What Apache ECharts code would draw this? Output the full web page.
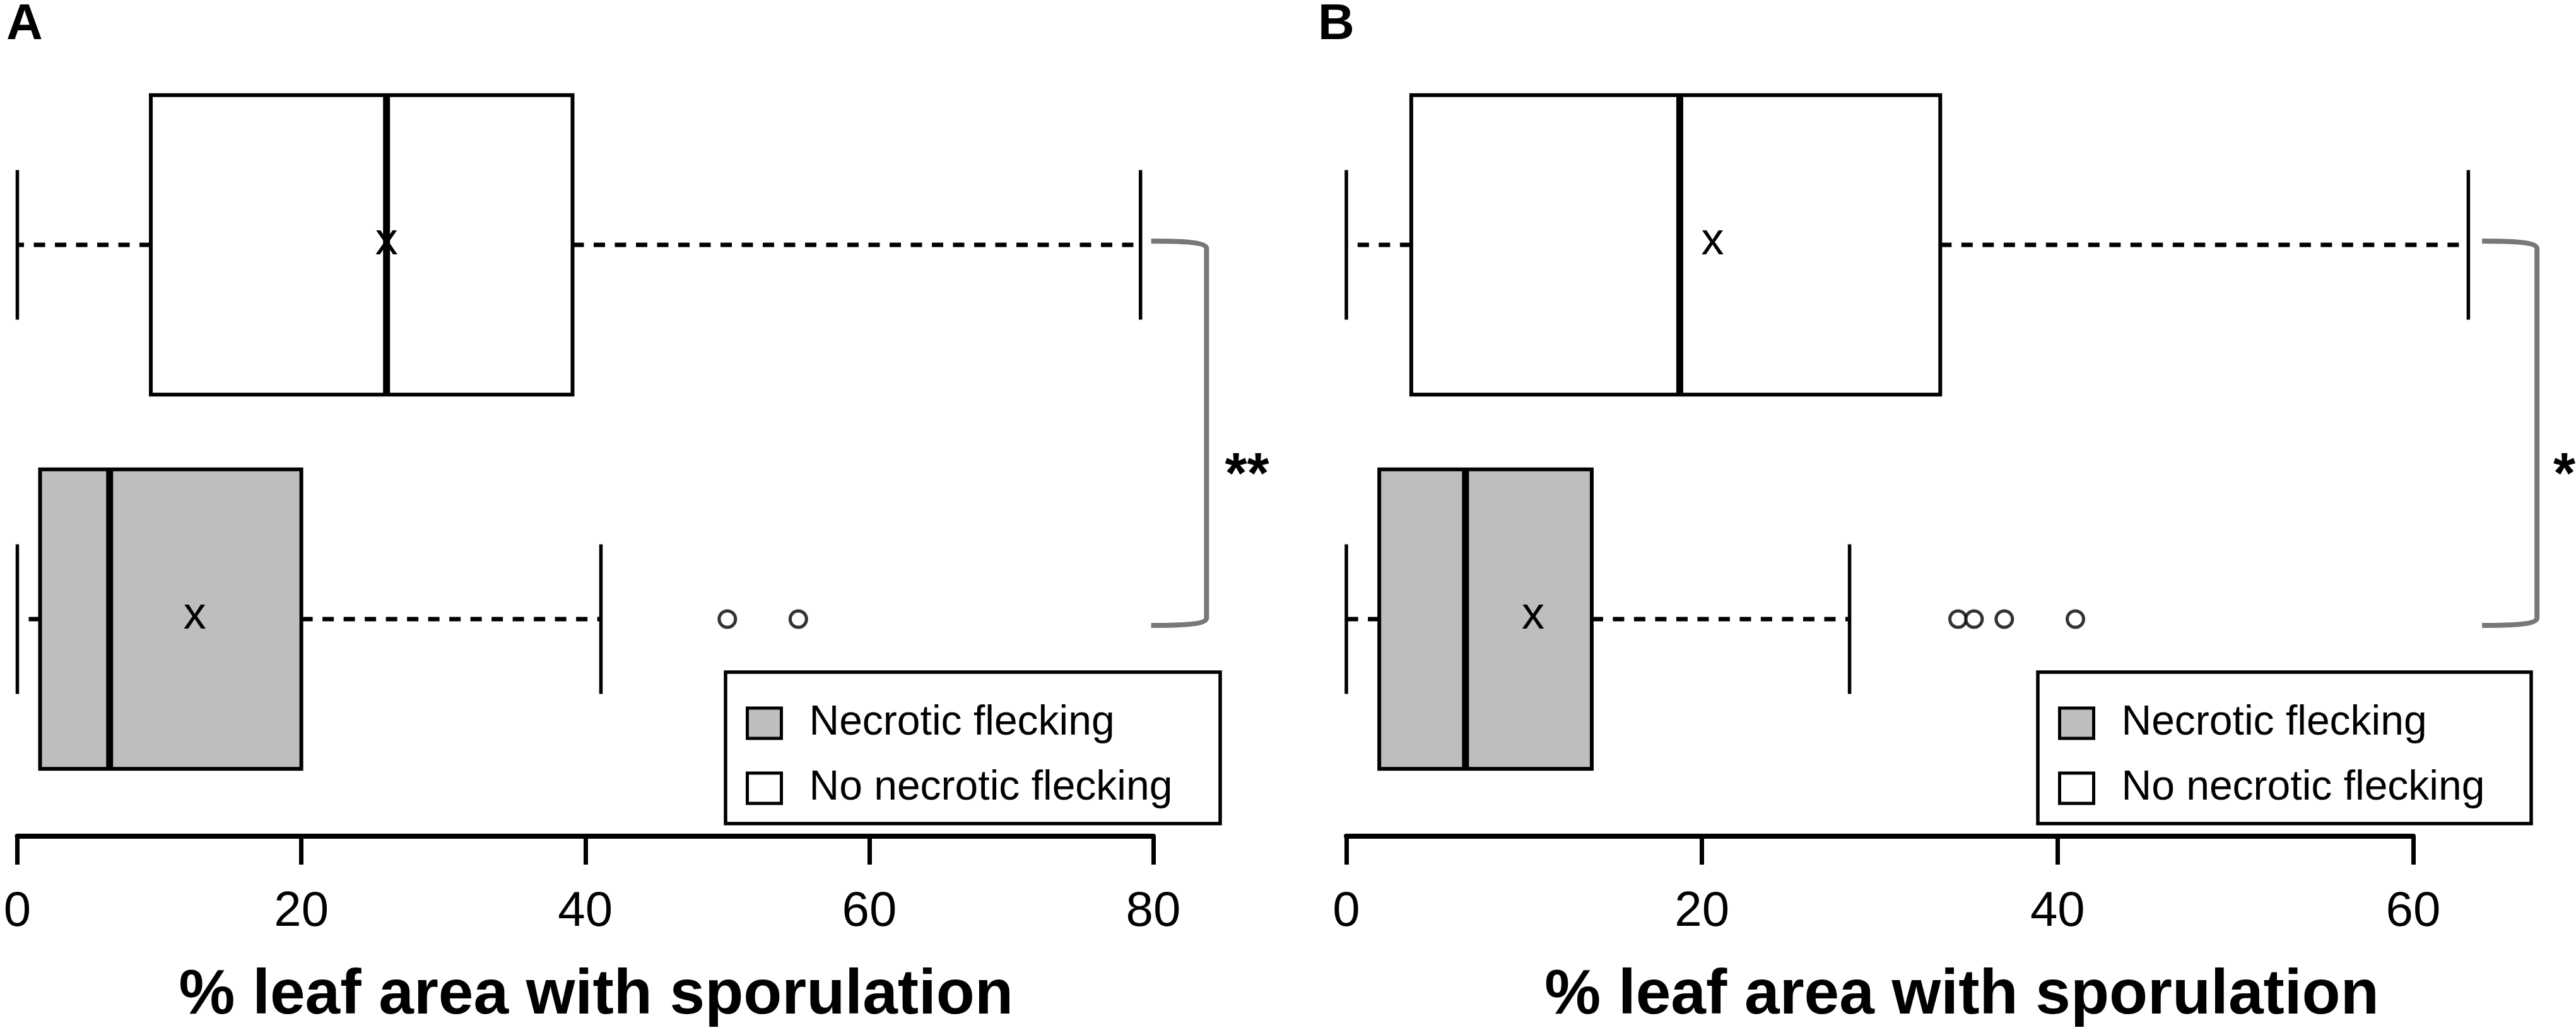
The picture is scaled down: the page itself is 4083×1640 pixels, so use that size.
<!DOCTYPE html>
<html>
<head>
<meta charset="utf-8">
<script src="https://cdn.jsdelivr.net/npm/echarts@6/dist/echarts.min.js"></script>
<style>
html,body{margin:0;padding:0;background:#fff;}
#chart{width:4083px;height:1640px;}
</style>
</head>
<body>
<div id="chart"></div>
<script>
// ---------------- DATA ----------------
const categories = ['Necrotic flecking', 'No necrotic flecking'];
// five-number summaries: [min, Q1, median, Q3, max]
const statsA_necrotic = [0, 1.6, 6.5, 20.0, 41.1];
const statsA_none     = [0, 9.4, 26.0, 39.1, 79.1];
const statsB_necrotic = [0, 1.85, 6.7, 13.8, 28.3];
const statsB_none     = [0, 3.65, 18.75, 33.4, 63.1];
// means (shown as "x")
const meansA = [12.5, 26.0];   // [necrotic, none]
const meansB = [10.5, 20.6];
// outliers
const outliersA_necrotic = [50, 55];
const outliersB_necrotic = [34.4, 35.3, 37.0, 41.0];
// axes
const ticksA = [0, 20, 40, 60, 80];
const ticksB = [0, 20, 40, 60];
const axisTitle = '% leaf area with sporulation';
const panelLabels = ['A', 'B'];
// significance brackets: [armStart, corner, labelX]
const bracketA = [79.85, 83.75, 86.6];
const bracketB = [63.87, 66.96, 68.5];
const sigLabels = ['**', '*'];

// ---------------- STYLE ----------------
const NARROW = "'Liberation Sans Narrow', 'Arial Narrow', 'Liberation Sans', Arial, sans-serif";
const SANS = "'Liberation Sans', Arial, sans-serif";
const GRAY = '#bebebe';
const BOX_FRAC = 0.8, CAP_FRAC = 0.4;

function renderBox(params, api) {
  const cat = api.value(0);
  const v = [api.value(1), api.value(2), api.value(3), api.value(4), api.value(5)];
  const px = v.map(d => api.coord([d, cat])[0]);
  const cy = api.coord([v[1], cat])[1];
  const band = api.size([0, 1])[1];
  const h = band * BOX_FRAC, cap = band * CAP_FRAC;
  const color = api.visual('color');
  const dash = {stroke: '#000', lineWidth: 7, lineDash: [18, 15.5]};
  const solid = {stroke: '#000', lineWidth: 5.5};
  return {type: 'group', children: [
    {type: 'line', shape: {x1: px[1], y1: cy, x2: px[0], y2: cy}, style: dash},
    {type: 'line', shape: {x1: px[3], y1: cy, x2: px[4], y2: cy}, style: dash},
    {type: 'line', shape: {x1: px[0], y1: cy - cap / 2, x2: px[0], y2: cy + cap / 2}, style: solid},
    {type: 'line', shape: {x1: px[4], y1: cy - cap / 2, x2: px[4], y2: cy + cap / 2}, style: solid},
    {type: 'rect', shape: {x: px[1], y: cy - h / 2, width: px[3] - px[1], height: h},
      style: {fill: color, stroke: '#000', lineWidth: 6}},
    {type: 'line', shape: {x1: px[2], y1: cy - h / 2, x2: px[2], y2: cy + h / 2},
      style: {stroke: '#000', lineWidth: 11}}
  ]};
}

function renderMean(params, api) {
  const p = api.coord([api.value(0), api.value(1)]);
  return {type: 'text', x: p[0], y: p[1] - 5, z2: 10,
    style: {text: 'x', fill: '#000', fontSize: 72, fontFamily: NARROW,
      align: 'center', verticalAlign: 'middle', textAlign: 'center', textVerticalAlign: 'middle'}};
}

function makeBracketRenderer(label) {
  return function (params, api) {
    const x0 = api.value(0), x1 = api.value(1), xs = api.value(2);
    const top = api.coord([x0, 1]), bot = api.coord([x0, 0]);
    const xa = top[0], xc = api.coord([x1, 1])[0], xsP = api.coord([xs, 1])[0];
    const yT = top[1] - 6, yB = bot[1] + 10;
    const mid = (xa + xc) / 2;
    const d = `M${xa} ${yT} C${mid} ${yT} ${xc} ${yT + 1} ${xc} ${yT + 12} ` +
              `L${xc} ${yB - 12} C${xc} ${yB - 1} ${mid} ${yB} ${xa} ${yB}`;
    const yMid = (top[1] + bot[1]) / 2;
    return {type: 'group', children: [
      {type: 'path', shape: {pathData: d}, style: {fill: 'none', stroke: '#787878', lineWidth: 8}},
      {type: 'text', x: xsP, y: yMid + 72,
        style: {text: label, fill: '#000', fontSize: 90, fontWeight: 'bold', fontFamily: SANS,
          align: 'center', verticalAlign: 'middle', textAlign: 'center', textVerticalAlign: 'middle'}}
    ]};
  };
}

function xAxisFor(gridIndex, ticks, padLeft) {
  const step = ticks[1] - ticks[0];
  return {
    type: 'value', gridIndex: gridIndex, min: ticks[0], max: ticks[ticks.length - 1], interval: step,
    position: 'bottom', offset: 47.5,
    axisLine: {show: true, lineStyle: {color: '#000', width: 8}},
    axisTick: {show: true, length: 45, lineStyle: {color: '#000', width: 7}},
    splitLine: {show: false},
    axisLabel: {margin: 81, color: '#000', fontSize: 78, fontFamily: NARROW},
    name: axisTitle, nameLocation: 'middle', nameGap: 203,
    nameTextStyle: {color: '#000', fontSize: 100, fontWeight: 'bold', fontFamily: SANS,
      padding: [0, 0, 0, padLeft]}
  };
}

function yAxisFor(gridIndex) {
  return {type: 'category', gridIndex: gridIndex, data: categories, show: false, boundaryGap: true};
}

function panelSeries(p, statsNec, statsNone, means, outliers, bracket) {
  return [
    {type: 'custom', name: categories[0], xAxisIndex: p, yAxisIndex: p, clip: false,
      itemStyle: {color: GRAY}, renderItem: renderBox,
      encode: {x: [1, 2, 3, 4, 5], y: 0}, data: [[0].concat(statsNec)], z: 2},
    {type: 'custom', name: categories[1], xAxisIndex: p, yAxisIndex: p, clip: false,
      itemStyle: {color: '#ffffff'}, renderItem: renderBox,
      encode: {x: [1, 2, 3, 4, 5], y: 0}, data: [[1].concat(statsNone)], z: 2},
    {type: 'scatter', name: 'outliers' + p, xAxisIndex: p, yAxisIndex: p,
      symbol: 'circle', symbolSize: 26, silent: true,
      itemStyle: {color: '#fff', borderColor: '#000', borderWidth: 5},
      data: outliers.map(v => [v, 0]), z: 3},
    {type: 'custom', name: 'means' + p, xAxisIndex: p, yAxisIndex: p, clip: false,
      renderItem: renderMean, data: means.map((m, i) => [m, i]), z: 5},
    {type: 'custom', name: 'bracket' + p, xAxisIndex: p, yAxisIndex: p, clip: false,
      renderItem: makeBracketRenderer(sigLabels[p]),
      encode: {x: [0, 1, 2], y: 3}, data: [bracket.concat([0])], z: 4}
  ];
}

function legendFor(left) {
  return {
    orient: 'vertical', left: left, top: 1101, itemGap: 23,
    icon: 'rect', itemWidth: 54, itemHeight: 48,
    itemStyle: {borderColor: '#000', borderWidth: 5},
    selectedMode: false,
    textStyle: {color: '#000', fontSize: 66, lineHeight: 80, fontFamily: NARROW, padding: [0, 0, 0, 39]},
    data: [
      {name: categories[0], itemStyle: {color: GRAY, borderColor: '#000', borderWidth: 5}},
      {name: categories[1], itemStyle: {color: '#fff', borderColor: '#000', borderWidth: 5}}
    ]
  };
}

const chart = echarts.init(document.getElementById('chart'), null, {renderer: 'canvas'});
chart.setOption({
  animation: false,
  backgroundColor: '#fff',
  title: [
    {text: panelLabels[0], left: 10, top: 0, padding: 0, textStyle: {fontSize: 80, fontWeight: 'bold', fontFamily: SANS, color: '#000'}},
    {text: panelLabels[1], left: 2089, top: 0, padding: 0, textStyle: {fontSize: 80, fontWeight: 'bold', fontFamily: SANS, color: '#000'}}
  ],
  grid: [
    {left: 27.5, width: 1800.5, top: 91.5, height: 1186},
    {left: 2134, width: 1691, top: 91.5, height: 1186}
  ],
  xAxis: [xAxisFor(0, ticksA, 34), xAxisFor(1, ticksB, 260)],
  yAxis: [yAxisFor(0), yAxisFor(1)],
  legend: [legendFor(1177), legendFor(3257)],
  graphic: [
    {type: 'rect', shape: {x: 1150, y: 1065, width: 784, height: 240}, style: {fill: 'none', stroke: '#000', lineWidth: 5.5}, z: -1},
    {type: 'rect', shape: {x: 3230, y: 1065, width: 782, height: 240}, style: {fill: 'none', stroke: '#000', lineWidth: 5.5}, z: -1}
  ],
  series: [].concat(
    panelSeries(0, statsA_necrotic, statsA_none, meansA, outliersA_necrotic, bracketA),
    panelSeries(1, statsB_necrotic, statsB_none, meansB, outliersB_necrotic, bracketB)
  )
});
</script>
</body>
</html>
